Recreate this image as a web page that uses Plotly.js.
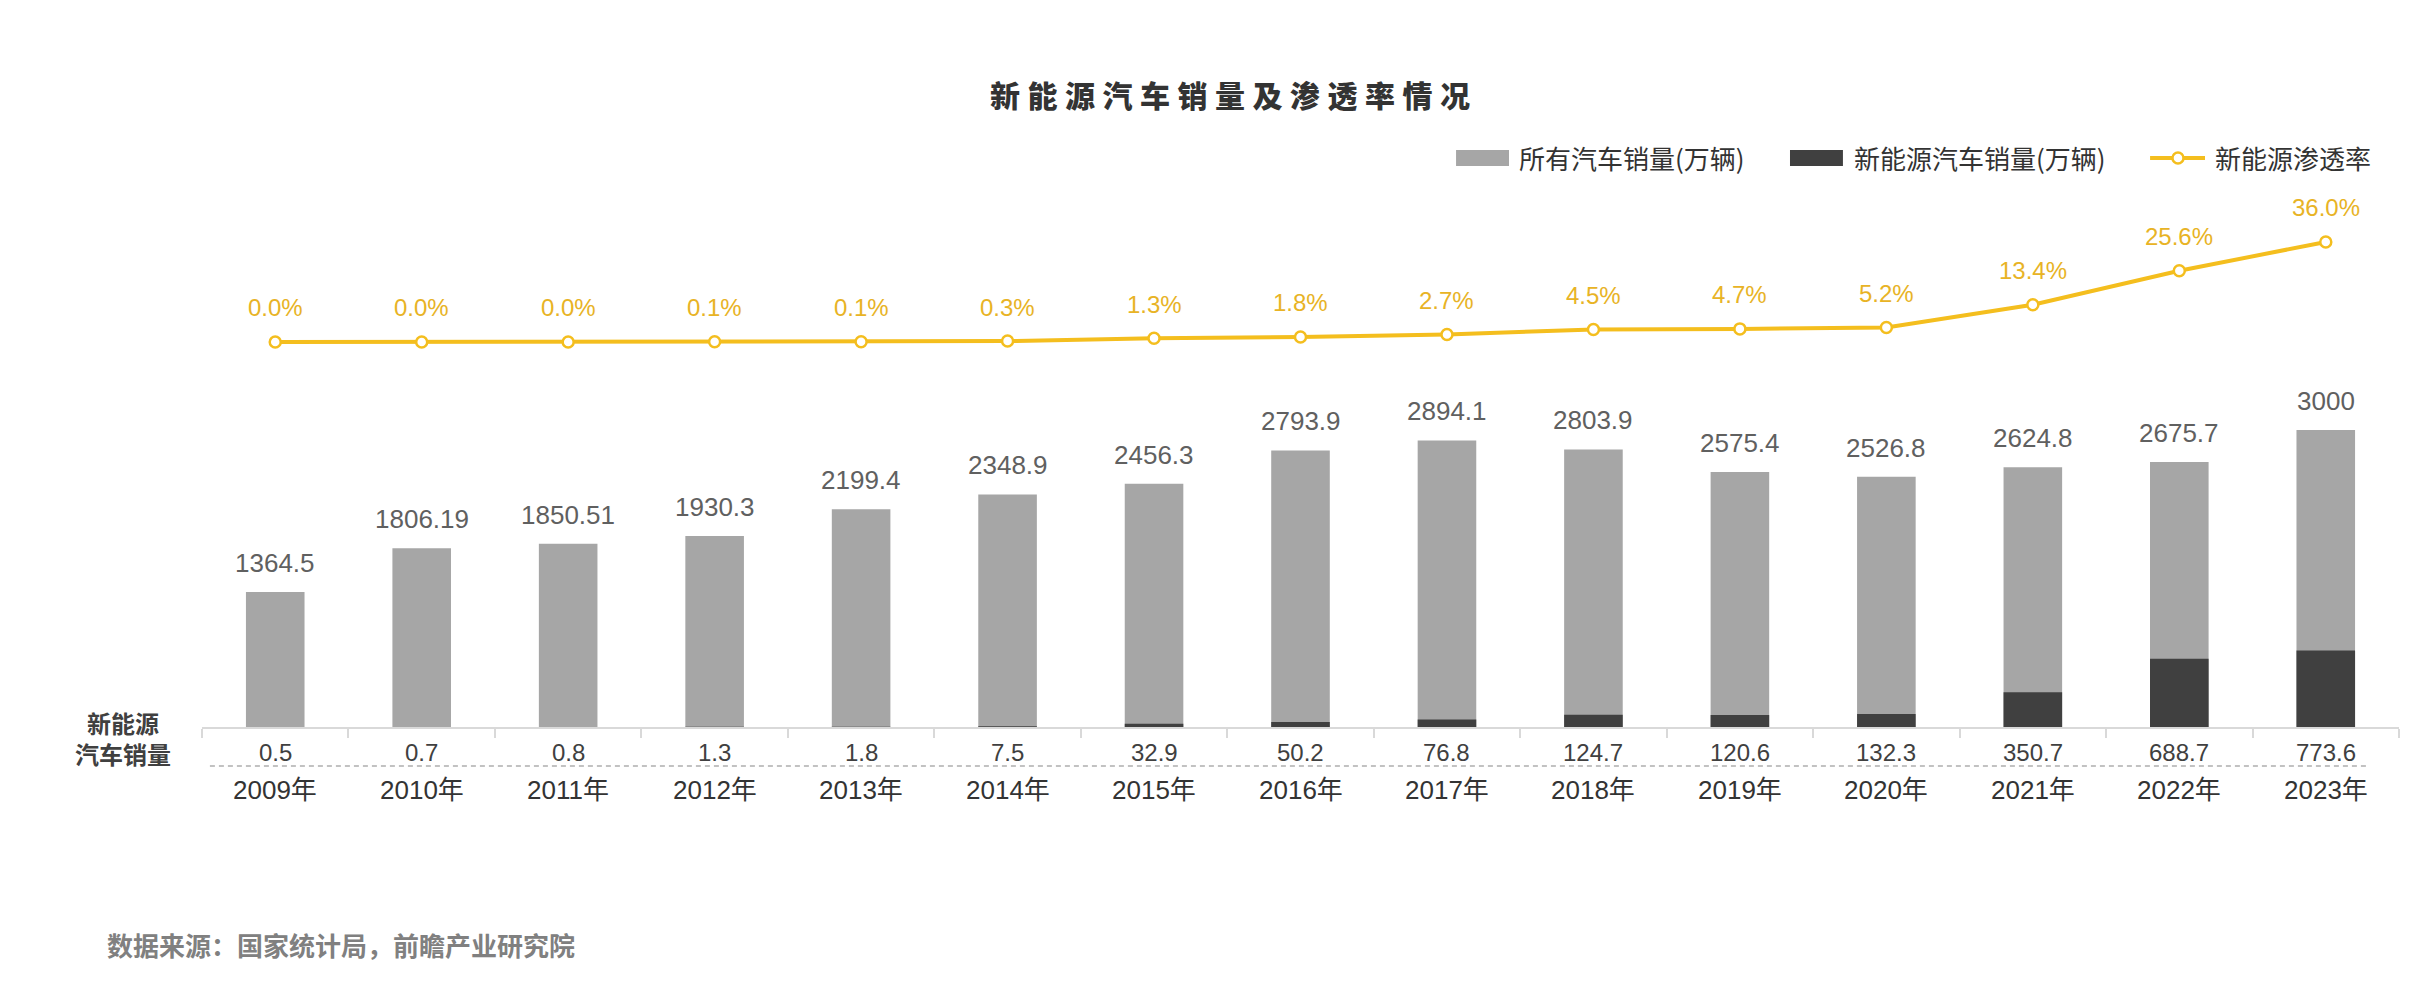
<!DOCTYPE html>
<html>
<head>
<meta charset="utf-8">
<script src="https://cdn.plot.ly/plotly-3.0.1.min.js"></script>
<style>html,body{margin:0;padding:0;background:#fff;}#chart{width:2418px;height:986px;}</style>
</head>
<body>
<div id="chart"></div>
<script>
const years = ["2009年","2010年","2011年","2012年","2013年","2014年","2015年","2016年","2017年","2018年","2019年","2020年","2021年","2022年","2023年"];
const totalSales = [1364.5, 1806.19, 1850.51, 1930.3, 2199.4, 2348.9, 2456.3, 2793.9, 2894.1, 2803.9, 2575.4, 2526.8, 2624.8, 2675.7, 3000];
const nevSales = [0.5, 0.7, 0.8, 1.3, 1.8, 7.5, 32.9, 50.2, 76.8, 124.7, 120.6, 132.3, 350.7, 688.7, 773.6];
const penetration = [0.0, 0.0, 0.0, 0.1, 0.1, 0.3, 1.3, 1.8, 2.7, 4.5, 4.7, 5.2, 13.4, 25.6, 36.0];
const seriesNames = ["所有汽车销量(万辆)", "新能源汽车销量(万辆)", "新能源渗透率"];

const FONT = "Liberation Sans, Arial, Noto Sans CJK SC, sans-serif";
const CJK = "Noto Sans CJK SC, Liberation Sans, sans-serif";
const YELLOW = "#F4BE1E";
const YELLOW_TXT = "#E8B325";
const GRAY = "#A6A6A6";
const DARK = "#404040";

const traces = [
  {type:"bar", name:seriesNames[0], x:years, y:totalSales, width:0.4,
   marker:{color:GRAY}, yaxis:"y", hoverinfo:"skip"},
  {type:"bar", name:seriesNames[1], x:years, y:nevSales, width:0.4,
   marker:{color:DARK}, yaxis:"y", hoverinfo:"skip"},
  {type:"scatter", mode:"lines+markers", name:seriesNames[2], x:years, y:penetration, yaxis:"y2",
   line:{color:YELLOW, width:4}, marker:{size:11, color:"#fff", line:{color:YELLOW, width:2.5}},
   cliponaxis:false, hoverinfo:"skip"}
];

const annotations = [];
years.forEach((yr,i)=>{
  annotations.push({x:yr, y:totalSales[i], xref:"x", yref:"y", yshift:29, text:String(totalSales[i]),
    showarrow:false, font:{family:FONT, size:26, color:"#606060"}, yanchor:"middle"});
  annotations.push({x:yr, y:penetration[i], xref:"x", yref:"y2", yshift:34, text:penetration[i].toFixed(1)+"%",
    showarrow:false, font:{family:FONT, size:24, color:YELLOW_TXT}, yanchor:"middle"});
  annotations.push({x:yr, y:0, xref:"x", yref:"y", yshift:-25, text:String(nevSales[i]),
    showarrow:false, font:{family:FONT, size:24, color:"#404040"}, yanchor:"middle"});
  annotations.push({x:yr, y:0, xref:"x", yref:"y", yshift:-63, text:yr,
    showarrow:false, font:{family:FONT, size:26, color:"#333333"}, yanchor:"middle"});
});
annotations.push({xref:"paper", yref:"paper", x:-0.036, y:-0.02, text:"<b>新能源</b><br><b>汽车销量</b>",
  showarrow:false, font:{family:CJK, size:24, color:"#404040"}, xanchor:"center", yanchor:"middle"});
annotations.push({xref:"paper", yref:"paper", x:-0.0442, y:-0.412, text:"<b>数据来源：国家统计局，前瞻产业研究院</b>",
  showarrow:false, font:{family:CJK, size:26, color:"#808080"}, xanchor:"left", yanchor:"middle"});

// custom legend (swatches wider than Plotly's default)
const LEG_Y = 1.0797;
const legendTextX = [0.5985, 0.7510, 0.9153];
seriesNames.forEach((nm,i)=>{
  annotations.push({xref:"paper", yref:"paper", x:legendTextX[i], y:LEG_Y, text:nm, showarrow:false,
    xanchor:"left", yanchor:"middle", font:{family:CJK, size:26, color:"#333333"}});
});

const titleText = "新能源汽车销量及渗透率情况".split("").join("\u2005");

const layout = {
  width:2418, height:986,
  paper_bgcolor:"#fff", plot_bgcolor:"#fff",
  margin:{l:202, r:19, t:200, b:259},
  barmode:"overlay",
  showlegend:false,
  title:{text:titleText, x:0.5087, xref:"container", xanchor:"center", y:0.9026, yanchor:"middle",
    font:{family:CJK, size:30, color:"#333333", weight:900}},
  xaxis:{type:"category", range:[-0.5,14.5], showline:true, linecolor:"#D9D9D9", linewidth:2,
    ticks:"outside", tickson:"boundaries", ticklen:9, tickcolor:"#D9D9D9", tickwidth:2,
    showticklabels:false, showgrid:false, zeroline:false, fixedrange:true},
  yaxis:{domain:[0,0.6], range:[0,3194], visible:false, fixedrange:true},
  yaxis2:{domain:[0.62,1], range:[-21,51.1], visible:false, fixedrange:true, anchor:"x"},
  shapes:[
    {type:"line", xref:"paper", yref:"paper", x0:0.0036, x1:0.9864, y0:-0.0741, y1:-0.0741,
     line:{color:"#AFAFAF", width:1.5, dash:"5px,4px"}},
    {type:"rect", xref:"paper", yref:"paper", x0:0.5708, x1:0.5949, y0:1.0645, y1:1.0949,
     fillcolor:GRAY, line:{width:0}},
    {type:"rect", xref:"paper", yref:"paper", x0:0.7228, x1:0.7469, y0:1.0645, y1:1.0949,
     fillcolor:DARK, line:{width:0}},
    {type:"line", xref:"paper", yref:"paper", x0:0.8867, x1:0.9117, y0:LEG_Y, y1:LEG_Y,
     line:{color:YELLOW, width:4}},
    {type:"circle", xref:"paper", yref:"paper", xsizemode:"pixel", ysizemode:"pixel",
     xanchor:0.8994, yanchor:LEG_Y, x0:-5.5, x1:5.5, y0:-5.5, y1:5.5,
     fillcolor:"#fff", line:{color:YELLOW, width:2.5}}
  ],
  annotations:annotations
};

Plotly.newPlot("chart", traces, layout, {displayModeBar:false, staticPlot:true});
</script>
</body>
</html>
